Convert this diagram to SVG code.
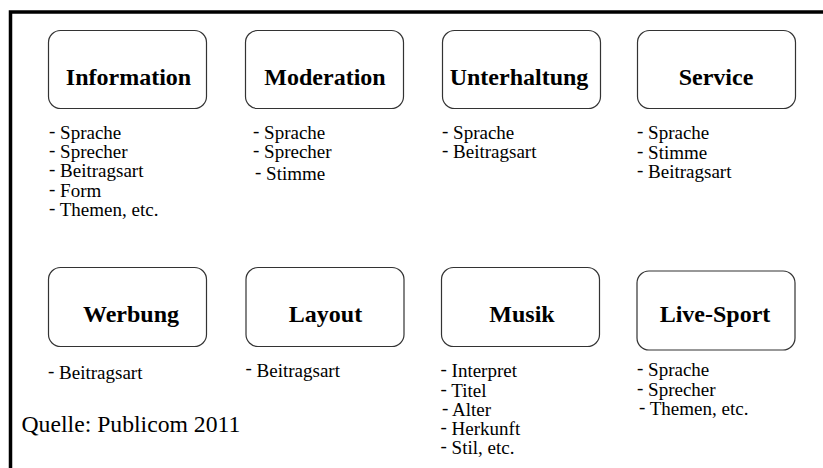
<svg xmlns="http://www.w3.org/2000/svg" width="823" height="468" viewBox="0 0 823 468">
<style>
.box{fill:#fff;stroke:#333;stroke-width:1.2}
.t{font-family:"Liberation Serif","Times New Roman",serif;font-weight:bold;font-size:24px;fill:#000;text-anchor:middle}
.l{font-family:"Liberation Serif","Times New Roman",serif;font-size:19px;fill:#000}
.q{font-family:"Liberation Serif","Times New Roman",serif;font-size:23.7px;fill:#000}
</style>
<rect width="823" height="468" fill="#fff"/>
<path d="M10.5,468 V12 H823" fill="none" stroke="#000" stroke-width="3.5"/>
<g id="connectors"/>
<g id="information">
<rect class="box" x="48.5" y="30.5" width="158" height="78" rx="12"/>
<text class="t" x="128.5" y="85">Information</text>
<text class="l" x="49" y="139"><tspan dy="-2">-</tspan><tspan dy="2"> Sprache</tspan></text>
<text class="l" x="49" y="158"><tspan dy="-2">-</tspan><tspan dy="2"> Sprecher</tspan></text>
<text class="l" x="49" y="177"><tspan dy="-2">-</tspan><tspan dy="2"> Beitragsart</tspan></text>
<text class="l" x="49" y="196.5"><tspan dy="-2">-</tspan><tspan dy="2"> Form</tspan></text>
<text class="l" x="49" y="216"><tspan dy="-2">-</tspan><tspan dy="2"> Themen, etc.</tspan></text>
</g>
<g id="moderation">
<rect class="box" x="245.5" y="30.5" width="158" height="78" rx="12"/>
<text class="t" x="325" y="85">Moderation</text>
<text class="l" x="253" y="139"><tspan dy="-2">-</tspan><tspan dy="2"> Sprache</tspan></text>
<text class="l" x="253" y="158"><tspan dy="-2">-</tspan><tspan dy="2"> Sprecher</tspan></text>
<text class="l" x="255" y="180"><tspan dy="-2">-</tspan><tspan dy="2"> Stimme</tspan></text>
</g>
<g id="unterhaltung">
<rect class="box" x="442.5" y="30.5" width="158" height="78" rx="12"/>
<text class="t" x="519" y="85">Unterhaltung</text>
<text class="l" x="442" y="138.5"><tspan dy="-2">-</tspan><tspan dy="2"> Sprache</tspan></text>
<text class="l" x="442" y="158"><tspan dy="-2">-</tspan><tspan dy="2"> Beitragsart</tspan></text>
</g>
<g id="service">
<rect class="box" x="637.5" y="30.5" width="158" height="78" rx="12"/>
<text class="t" x="716" y="85">Service</text>
<text class="l" x="637" y="139"><tspan dy="-2">-</tspan><tspan dy="2"> Sprache</tspan></text>
<text class="l" x="637" y="159"><tspan dy="-2">-</tspan><tspan dy="2"> Stimme</tspan></text>
<text class="l" x="637" y="178"><tspan dy="-2">-</tspan><tspan dy="2"> Beitragsart</tspan></text>
</g>
<g id="werbung">
<rect class="box" x="48.5" y="267.5" width="158" height="79" rx="12"/>
<text class="t" x="131" y="322">Werbung</text>
<text class="l" x="48" y="378.5"><tspan dy="-2">-</tspan><tspan dy="2"> Beitragsart</tspan></text>
</g>
<g id="layout">
<rect class="box" x="246" y="267.5" width="158" height="79" rx="12"/>
<text class="t" x="325.5" y="322">Layout</text>
<text class="l" x="245.5" y="377"><tspan dy="-3">-</tspan><tspan dy="3"> Beitragsart</tspan></text>
</g>
<g id="musik">
<rect class="box" x="441.5" y="267.5" width="158" height="79" rx="12"/>
<text class="t" x="522" y="321.5">Musik</text>
<text class="l" x="440.5" y="377"><tspan dy="-2">-</tspan><tspan dy="2"> Interpret</tspan></text>
<text class="l" x="440.5" y="396.5"><tspan dy="-2">-</tspan><tspan dy="2"> Titel</tspan></text>
<text class="l" x="442" y="415.5"><tspan dy="-2">-</tspan><tspan dy="2">  Alter</tspan></text>
<text class="l" x="440.5" y="435"><tspan dy="-2">-</tspan><tspan dy="2"> Herkunft</tspan></text>
<text class="l" x="440.5" y="454"><tspan dy="-2">-</tspan><tspan dy="2"> Stil, etc.</tspan></text>
</g>
<g id="live-sport">
<rect class="box" x="637" y="271" width="158" height="79" rx="12"/>
<text class="t" x="715" y="322">Live-Sport</text>
<text class="l" x="637" y="376"><tspan dy="-2">-</tspan><tspan dy="2"> Sprache</tspan></text>
<text class="l" x="637" y="395.5"><tspan dy="-2">-</tspan><tspan dy="2"> Sprecher</tspan></text>
<text class="l" x="639" y="414.5"><tspan dy="-2">-</tspan><tspan dy="2"> Themen, etc.</tspan></text>
</g>
<g id="source">
<text class="q" x="21.5" y="432">Quelle: Publicom 2011</text>
</g>
</svg>
